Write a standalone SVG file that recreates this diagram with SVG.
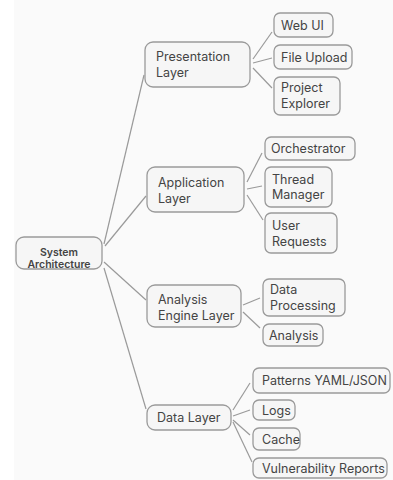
<svg xmlns="http://www.w3.org/2000/svg" width="393" height="480" viewBox="0 0 393 480">
<style>
.bg{fill:#fafafa}
.box{fill:#f6f6f6;stroke:#9a9a9a;stroke-width:1.3}
.t{font-family:Inter,"Liberation Sans",sans-serif;font-size:12.5px;fill:#444}
.tr{font-family:Inter,"Liberation Sans",sans-serif;font-size:10.5px;font-weight:600;fill:#444;text-anchor:middle}
.c{stroke:#9a9a9a;stroke-width:1.2;fill:none}
</style>
<rect class="bg" x="0" y="0" width="393" height="480"/>
<rect x="0" y="0" width="14" height="480" fill="#ffffff"/>
<g id="connectors">
<line class="c" x1="104" y1="244" x2="144" y2="75"/>
<line class="c" x1="105" y1="246" x2="146" y2="196"/>
<line class="c" x1="104" y1="262" x2="146" y2="300"/>
<line class="c" x1="104" y1="268" x2="146" y2="409"/>
<line class="c" x1="253" y1="59" x2="272" y2="32"/>
<line class="c" x1="253" y1="63" x2="272" y2="58"/>
<line class="c" x1="253" y1="68" x2="272" y2="88"/>
<line class="c" x1="247" y1="182" x2="262" y2="153"/>
<line class="c" x1="247" y1="189" x2="262" y2="186"/>
<line class="c" x1="247" y1="195" x2="263" y2="220"/>
<line class="c" x1="243" y1="305" x2="260" y2="298"/>
<line class="c" x1="243" y1="312" x2="260" y2="328"/>
<line class="c" x1="233" y1="410" x2="250" y2="383"/>
<line class="c" x1="233" y1="416" x2="250" y2="410"/>
<line class="c" x1="233" y1="420" x2="250" y2="435"/>
<line class="c" x1="233" y1="422" x2="252" y2="462"/>
</g>
<g id="root"><rect class="box" x="16" y="237" width="86" height="32" rx="8"/><text class="tr" x="59" y="256">System</text><text class="tr" x="59" y="268">Architecture</text></g>
<g id="presentation"><rect class="box" x="145" y="42" width="105" height="45" rx="8"/><text class="t" x="156" y="61">Presentation</text><text class="t" x="156" y="77">Layer</text></g>
<g id="application"><rect class="box" x="147" y="167" width="97" height="45" rx="8"/><text class="t" x="158" y="187">Application</text><text class="t" x="158" y="202.5">Layer</text></g>
<g id="analysis-engine"><rect class="box" x="147" y="285" width="94" height="42" rx="8"/><text class="t" x="158" y="304">Analysis</text><text class="t" x="158" y="319.5">Engine Layer</text></g>
<g id="data-layer"><rect class="box" x="147" y="405" width="84" height="25" rx="8"/><text class="t" x="157" y="422">Data Layer</text></g>
<g id="web-ui"><rect class="box" x="274" y="13" width="59" height="24" rx="6"/><text class="t" x="281" y="29.5">Web UI</text></g>
<g id="file-upload"><rect class="box" x="274" y="45" width="78" height="24" rx="6"/><text class="t" x="281" y="61.5">File Upload</text></g>
<g id="project-explorer"><rect class="box" x="274" y="77" width="66" height="38" rx="6"/><text class="t" x="281" y="92">Project</text><text class="t" x="281" y="107.5">Explorer</text></g>
<g id="orchestrator"><rect class="box" x="265" y="137" width="90" height="23" rx="6"/><text class="t" x="271" y="153">Orchestrator</text></g>
<g id="thread-manager"><rect class="box" x="265" y="167" width="67" height="40" rx="6"/><text class="t" x="272" y="184">Thread</text><text class="t" x="272" y="199">Manager</text></g>
<g id="user-requests"><rect class="box" x="265" y="213" width="72" height="40" rx="6"/><text class="t" x="272" y="230">User</text><text class="t" x="272" y="245.5">Requests</text></g>
<g id="data-processing"><rect class="box" x="263" y="279" width="82" height="37" rx="6"/><text class="t" x="270" y="294">Data</text><text class="t" x="270" y="309.5">Processing</text></g>
<g id="analysis"><rect class="box" x="263" y="324" width="60" height="22" rx="6"/><text class="t" x="269" y="339.5">Analysis</text></g>
<g id="patterns"><rect class="box" x="253" y="368" width="137" height="25" rx="6"/><text class="t" x="262" y="385">Patterns YAML/JSON</text></g>
<g id="logs"><rect class="box" x="253" y="400" width="42" height="20" rx="6"/><text class="t" x="262" y="414.5">Logs</text></g>
<g id="cache"><rect class="box" x="253" y="428" width="47" height="22" rx="6"/><text class="t" x="262" y="443.5">Cache</text></g>
<g id="vulnerability-reports"><rect class="box" x="253" y="458" width="134" height="20" rx="6"/><text class="t" x="262" y="472.5">Vulnerability Reports</text></g>
</svg>
